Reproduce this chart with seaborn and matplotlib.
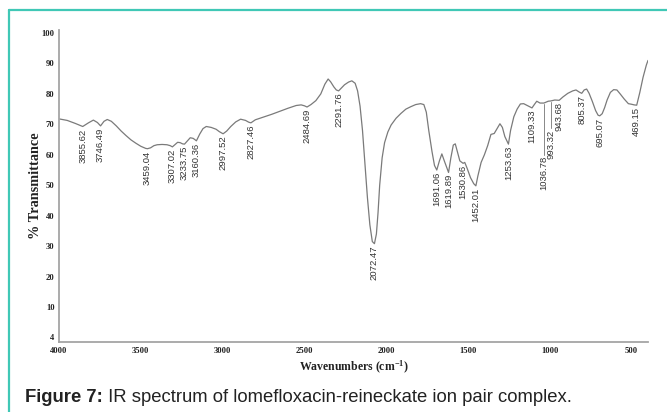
import numpy as np
import pandas as pd
import matplotlib
matplotlib.use("Agg")
import matplotlib.pyplot as plt
from matplotlib.lines import Line2D
import seaborn as sns

# ---------------- data ----------------
wavenumber = [4000, 3950, 3900, 3855, 3820, 3790, 3765, 3746, 3725, 3705, 3680, 3650, 3620, 3590,
              3560, 3530, 3500, 3470, 3459, 3440, 3420, 3400, 3370, 3340, 3320, 3307, 3290, 3275,
              3260, 3245, 3233, 3215, 3198, 3180, 3160, 3140, 3120, 3100, 3070, 3040, 3020, 2997,
              2975, 2950, 2920, 2890, 2860, 2840, 2827, 2800, 2750, 2700, 2650, 2600, 2550, 2520,
              2500, 2484, 2460, 2430, 2400, 2375, 2355, 2340, 2320, 2305, 2291, 2275, 2255, 2230,
              2210, 2190, 2175, 2160, 2145, 2130, 2115, 2100, 2085, 2072, 2060, 2050, 2040, 2025,
              2010, 1990, 1970, 1940, 1910, 1880, 1850, 1820, 1790, 1770, 1755, 1740, 1720, 1705,
              1691, 1675, 1660, 1645, 1619, 1605, 1590, 1578, 1565, 1550, 1530, 1520, 1505, 1485,
              1465, 1452, 1440, 1420, 1400, 1380, 1360, 1340, 1320, 1305, 1290, 1275, 1253, 1240,
              1220, 1200, 1180, 1160, 1130, 1109, 1095, 1080, 1060, 1036, 1010, 993, 970, 943,
              920, 890, 860, 840, 820, 805, 790, 775, 760, 740, 720, 705, 695, 680, 665, 650,
              630, 610, 590, 570, 545, 520, 500, 485, 469, 450, 430, 410, 400]
transmittance = [71.8, 71.3, 70.3, 69.3, 70.5, 71.4, 70.6, 69.5, 71.0, 71.6, 71.0, 69.5, 67.8, 66.3,
                 64.9, 63.8, 62.8, 62.1, 62.0, 62.3, 63.0, 63.3, 63.4, 63.3, 63.0, 62.6, 63.4, 64.1,
                 64.0, 63.6, 63.5, 64.6, 65.6, 65.4, 64.6, 66.8, 68.6, 69.3, 69.0, 68.4, 67.6, 66.9,
                 67.8, 69.3, 70.8, 71.7, 71.3, 70.7, 70.5, 71.5, 72.4, 73.3, 74.3, 75.3, 76.2, 76.4,
                 76.1, 75.7, 76.5, 77.8, 80.0, 83.2, 84.9, 84.0, 82.3, 81.3, 81.0, 81.9, 83.0, 83.9,
                 84.3, 83.5, 81.0, 76.0, 68.0, 57.0, 46.0, 37.0, 31.5, 30.8, 34.0, 41.0, 50.0, 59.0,
                 64.0, 67.5, 69.8, 72.0, 73.6, 75.0, 75.8, 76.5, 76.8, 76.5, 74.0, 68.0, 61.0, 56.5,
                 55.0, 58.0, 60.3, 58.0, 54.2, 59.0, 63.2, 63.6, 61.0, 58.0, 57.2, 57.5, 55.5, 52.5,
                 50.5, 49.8, 53.0, 57.5, 60.0, 63.0, 66.7, 67.0, 68.8, 70.2, 69.0, 66.0, 63.5, 68.0,
                 72.5, 75.0, 76.7, 76.8, 76.0, 75.4, 76.5, 77.6, 77.0, 77.0, 77.6, 77.7, 78.0, 77.9,
                 79.0, 80.2, 81.0, 81.3, 80.6, 80.2, 81.3, 81.6, 80.2, 77.5, 74.5, 73.0, 72.8, 73.5,
                 75.5, 78.0, 80.5, 81.4, 81.3, 80.0, 78.3, 76.8, 76.6, 76.4, 76.3, 80.5, 85.5, 89.5, 91.0]

peak_wn = [3855.62, 3746.49, 3459.04, 3307.02, 3233.75, 3160.36, 2997.52, 2827.46, 2484.69,
           2291.76, 2072.47, 1691.06, 1619.89, 1530.86, 1452.01, 1253.63, 1109.33, 1036.78,
           993.32, 943.68, 805.37, 695.07, 469.15]
peak_labels = ["3855.62", "3746.49", "3459.04", "3307.02", "3233.75", "3160.36", "2997.52",
               "2827.46", "2484.69", "2291.76", "2072.47", "1691.06", "1619.89", "1530.86",
               "1452.01", "1253.63", "1109.33", "1036.78", "993.32", "943.68", "805.37",
               "695.07", "469.15"]

x_ticks = [4000, 3500, 3000, 2500, 2000, 1500, 1000, 500]
x_tick_labels = ["4000", "3500", "3000", "2500", "2000", "1500", "1000", "500"]
y_ticks = [0, 10, 20, 30, 40, 50, 60, 70, 80, 90, 100]
y_tick_labels = ["4", "10", "20", "30", "40", "50", "60", "70", "80", "90", "100"]

x_label = "Wavenumbers (cm$^{-1}$)"
y_label = "% Transmittance"
caption_bold = "Figure 7:"
caption_rest = " IR spectrum of lomefloxacin-reineckate ion pair complex."

# ---------------- plot ----------------
sns.set_style("white")
plt.rcParams["font.family"] = ["Liberation Sans", "DejaVu Sans"]
plt.rcParams["mathtext.fontset"] = "custom"
plt.rcParams["mathtext.rm"] = "Liberation Serif:bold"
plt.rcParams["mathtext.default"] = "rm"

df = pd.DataFrame({"wn": wavenumber, "T": transmittance})

fig = plt.figure(figsize=(6.67, 4.12), dpi=100)
ax = fig.add_axes([59 / 667, 1 - 342 / 412, (648 - 59) / 667, (342 - 30) / 412])

sns.lineplot(data=df, x="wn", y="T", ax=ax, color="#7a7a7a", linewidth=0.9, sort=False)

ax.set_xlim(4000, 400)
ax.set_ylim(-1.5, 101)

ax.set_xticks(x_ticks)
ax.set_xticklabels(x_tick_labels)
ax.set_xticks(np.arange(3900, 399, -100), minor=True)
ax.set_yticks(y_ticks)
ax.set_yticklabels(y_tick_labels)

for lab in ax.get_xticklabels() + ax.get_yticklabels():
    lab.set_family(["Liberation Serif", "DejaVu Serif"])
    lab.set_weight("bold")
    lab.set_fontsize(6.2)
    lab.set_color("#222222")

ax.tick_params(axis="both", which="both", direction="inout", length=2.5, width=0.8,
               color="#555555", pad=2)
ax.tick_params(axis="x", which="minor", length=2)

for side in ["top", "right"]:
    ax.spines[side].set_visible(False)
for side in ["left", "bottom"]:
    ax.spines[side].set_color("#a5a5a5")
    ax.spines[side].set_linewidth(1.3)

ax.set_xlabel(x_label, family=["Liberation Serif", "DejaVu Serif"], weight="bold",
              fontsize=8.5, color="#222222", labelpad=3)
ax.set_ylabel(y_label, family=["Liberation Serif", "DejaVu Serif"], weight="bold",
              fontsize=10.3, color="#222222")
ax.yaxis.set_label_coords(-0.029, 0.5)

# peak annotations
leader = {"1036.78": 17.0, "993.32": 9.0}
wn_sorted = np.array(wavenumber[::-1], dtype=float)
t_sorted = np.array(transmittance[::-1], dtype=float)
for w, lab in zip(peak_wn, peak_labels):
    t = np.interp(w, wn_sorted, t_sorted)
    drop = leader.get(lab, 0.0)
    top = t - 0.6
    if drop > 0:
        ax.plot([w, w], [t - 0.3, t - drop], color="#888888", linewidth=0.7)
        top = t - drop - 0.4
    ax.text(w, top, lab, rotation=90, ha="center", va="top", fontsize=6.8,
            color="#333333")

# caption
fig.text(25 / 667, 1 - 398 / 412, caption_bold, fontsize=13.3, weight="bold",
         va="center", ha="left", color="#222222")
fig.canvas.draw()
r = fig.canvas.get_renderer()
bb = fig.texts[0].get_window_extent(renderer=r)
fig.text(bb.x1 / fig.bbox.width, 1 - 398 / 412, caption_rest, fontsize=13.3,
         va="center", ha="left", color="#222222")

# teal frame (top and left)
teal = "#40c8b6"
fig.add_artist(Line2D([9 / 667, 9 / 667], [0, 1 - 10 / 412], transform=fig.transFigure,
                      color=teal, linewidth=1.6))
fig.add_artist(Line2D([9 / 667, 1], [1 - 10 / 412, 1 - 10 / 412], transform=fig.transFigure,
                      color=teal, linewidth=1.6))

fig.savefig("out.png", dpi=100)
